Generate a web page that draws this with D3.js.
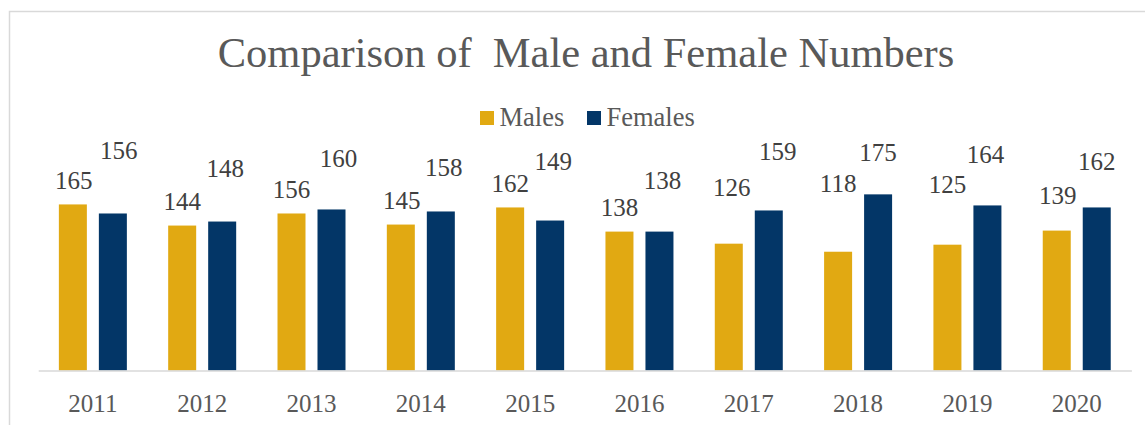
<!DOCTYPE html>
<html>
<head>
<meta charset="utf-8">
<script src="https://cdn.jsdelivr.net/npm/d3@7"></script>
<style>
  html, body { margin: 0; padding: 0; background: #fff; }
  svg { display: block; }
  svg text { font-family: "Liberation Serif", "Times New Roman", serif; }
</style>
</head>
<body>
<div id="chart"></div>
<script>
var years = ["2011", "2012", "2013", "2014", "2015", "2016", "2017", "2018", "2019", "2020"];
var males = [165, 144, 156, 145, 162, 138, 126, 118, 125, 139];
var females = [156, 148, 160, 158, 149, 138, 159, 175, 164, 162];
var seriesNames = ["Males", "Females"];

// data labels were dragged around by hand in the original, so keep their extra offsets here
var maleLabelLift = [0, 0, 0, 0, 0, 0, 32.5, 44.5, 36, 11];
var maleLabelShift = [1, 0, 0, 1, 0, 0, 3, 0, 0, 1];
var femaleLabelLift = [38.5, 29.5, 26.5, 20, 35, 27, 35, 18, 26.5, 22];
var femaleLabelShift = [6, 3, 7, 3, 3, 3, 9, 0, -2, 0];

var width = 1145,
    height = 425,
    serif = "'Liberation Serif', 'Times New Roman', serif",
    colors = { Males: "#e1a912", Females: "#033667" };

var svg = d3.select("#chart").append("svg")
    .attr("width", width)
    .attr("height", height)
    .attr("font-family", serif);

// chart frame
svg.append("rect")
    .attr("x", 9.5)
    .attr("y", 11.5)
    .attr("width", width)
    .attr("height", height)
    .attr("fill", "none")
    .attr("stroke", "#d9d9d9")
    .attr("stroke-width", 1.5);

svg.append("text")
    .attr("x", 586)
    .attr("y", 67)
    .attr("text-anchor", "middle")
    .attr("fill", "#595959")
    .style("font-family", serif)
    .style("font-size", "42.5px")
    .style("white-space", "pre")
    .text("Comparison of  Male and Female Numbers");

// legend
var legendItems = [
  { name: "Males", x: 480 },
  { name: "Females", x: 587 }
];
var legend = svg.selectAll(".legend")
    .data(legendItems)
  .enter().append("g")
    .attr("class", "legend")
    .attr("transform", function(d) { return "translate(" + d.x + ",111)"; });
legend.append("rect")
    .attr("width", 14)
    .attr("height", 14)
    .attr("fill", function(d) { return colors[d.name]; });
legend.append("text")
    .attr("x", 19.5)
    .attr("y", 15)
    .attr("fill", "#595959")
    .style("font-family", serif)
    .style("font-size", "26.5px")
    .text(function(d) { return d.name; });

var x0 = d3.scaleBand()
    .domain(years)
    .range([38.2, 1131.4])
    .paddingInner(0.378)
    .paddingOuter(0.189);

var x1 = d3.scaleBand()
    .domain(seriesNames)
    .range([0, x0.bandwidth()])
    .paddingInner(0.3);

var y = d3.scaleLinear()
    .domain([0, 200])
    .range([370.5, 169.2]);

var rows = years.map(function(yr, i) {
  return [
    { year: yr, series: "Males", value: males[i], lift: maleLabelLift[i], shift: maleLabelShift[i] },
    { year: yr, series: "Females", value: females[i], lift: femaleLabelLift[i], shift: femaleLabelShift[i] }
  ];
});

var groups = svg.selectAll(".year")
    .data(rows)
  .enter().append("g")
    .attr("class", "year")
    .attr("transform", function(d) { return "translate(" + x0(d[0].year) + ",0)"; });

groups.selectAll("rect")
    .data(function(d) { return d; })
  .enter().append("rect")
    .attr("x", function(d) { return x1(d.series); })
    .attr("y", function(d) { return y(d.value); })
    .attr("width", x1.bandwidth())
    .attr("height", function(d) { return y(0) - y(d.value); })
    .attr("fill", function(d) { return colors[d.series]; });

groups.selectAll(".label")
    .data(function(d) { return d; })
  .enter().append("text")
    .attr("class", "label")
    .attr("x", function(d) { return x1(d.series) + x1.bandwidth() / 2 + d.shift; })
    .attr("y", function(d) { return y(d.value) - 15.5 - d.lift; })
    .attr("text-anchor", "middle")
    .attr("fill", "#404040")
    .style("font-family", serif)
    .style("font-size", "25px")
    .text(function(d) { return d.value; });

// category axis
var xAxis = svg.append("g")
    .attr("transform", "translate(0," + y(0) + ")")
    .call(d3.axisBottom(x0).tickSize(0).tickPadding(23.3));
xAxis.select(".domain")
    .attr("stroke", "#d9d9d9")
    .attr("stroke-width", 1.5);
xAxis.selectAll("text")
    .attr("fill", "#595959")
    .style("font-family", serif)
    .style("font-size", "25px");
</script>
</body>
</html>
